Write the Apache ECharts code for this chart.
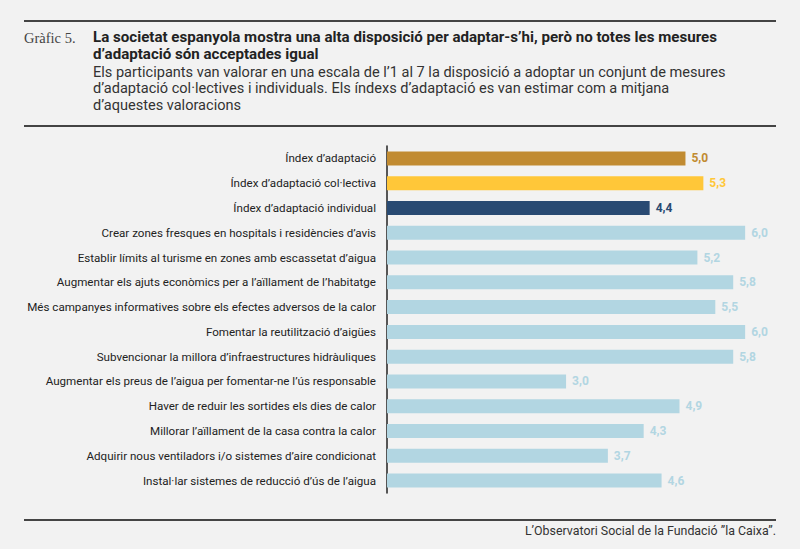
<!DOCTYPE html>
<html>
<head>
<meta charset="utf-8">
<script src="https://cdn.jsdelivr.net/npm/echarts@6/dist/echarts.min.js"></script>
<style>
html,body{margin:0;padding:0;background:#f2f2f2;}
#c{width:800px;height:549px;}
</style>
</head>
<body>
<div id="c"></div>
<script>
const categories = [
  "Índex d’adaptació",
  "Índex d’adaptació col·lectiva",
  "Índex d’adaptació individual",
  "Crear zones fresques en hospitals i residències d’avis",
  "Establir límits al turisme en zones amb escassetat d’aigua",
  "Augmentar els ajuts econòmics per a l’aïllament de l’habitatge",
  "Més campanyes informatives sobre els efectes adversos de la calor",
  "Fomentar la reutilització d’aigües",
  "Subvencionar la millora d’infraestructures hidràuliques",
  "Augmentar els preus de l’aigua per fomentar-ne l’ús responsable",
  "Haver de reduir les sortides els dies de calor",
  "Millorar l’aïllament de la casa contra la calor",
  "Adquirir nous ventiladors i/o sistemes d’aire condicionat",
  "Instal·lar sistemes de reducció d’ús de l’aigua"
];
const values = [5.0, 5.3, 4.4, 6.0, 5.2, 5.8, 5.5, 6.0, 5.8, 3.0, 4.9, 4.3, 3.7, 4.6];
const barColors = ["#c18b31", "#ffc739", "#294a72", "#b2d6e2", "#b2d6e2", "#b2d6e2", "#b2d6e2", "#b2d6e2", "#b2d6e2", "#b2d6e2", "#b2d6e2", "#b2d6e2", "#b2d6e2", "#b2d6e2"];
const chartLabel = "Gràfic 5.";
const titleLines = [
  "La societat espanyola mostra una alta disposició per adaptar-s’hi, però no totes les mesures",
  "d’adaptació són acceptades igual"
];
const subtitleLines = [
  "Els participants van valorar en una escala de l’1 al 7 la disposició a adoptar un conjunt de mesures",
  "d’adaptació col·lectives i individuals. Els índexs d’adaptació es van estimar com a mitjana",
  "d’aquestes valoracions"
];
const sourceText = "L’Observatori Social de la Fundació ”la Caixa”.";

const chart = echarts.init(document.getElementById('c'), null, {renderer: 'svg'});
const sans = "Roboto, 'Liberation Sans', sans-serif";

const graphics = [
  {type:'line', shape:{x1:24,y1:21,x2:776,y2:21}, style:{stroke:'#444',lineWidth:2}},
  {type:'line', shape:{x1:24,y1:126,x2:776,y2:126}, style:{stroke:'#444',lineWidth:2}},
  {type:'line', shape:{x1:24,y1:520,x2:776,y2:520}, style:{stroke:'#444',lineWidth:2}},
  {type:'text', left:24, top:30, style:{text:chartLabel, font:"14.5px 'Liberation Serif', serif", fill:'#444'}},
  {type:'text', right:24, top:524, style:{text:sourceText, font:"12.4px "+sans, fill:'#333'}}
];
titleLines.forEach((t,i)=>graphics.push({type:'text', left:93, top:29.5+i*17, style:{text:t, font:"bold 15.1px "+sans, fill:'#222'}}));
subtitleLines.forEach((t,i)=>graphics.push({type:'text', left:93, top:64.5+i*16.5, style:{text:t, font:"14.55px "+sans, fill:'#333'}}));

chart.setOption({
  backgroundColor:'#f2f2f2',
  animation:false,
  graphic: graphics,
  grid:{left:387, right:25, top:146, height:347, containLabel:false},
  xAxis:{type:'value', min:0, max:6.5, show:false},
  yAxis:{
    type:'category', data:categories, inverse:true,
    axisLine:{show:true, lineStyle:{color:'#222', width:1.5}},
    axisTick:{show:false},
    axisLabel:{color:'#222', fontSize:11.6, fontFamily:sans, margin:11}
  },
  series:[{
    type:'bar',
    data: values.map((v,i)=>({value:v, itemStyle:{color:barColors[i]}, label:{color:barColors[i]}})),
    barWidth:14,
    label:{show:true, position:'right', distance:6, fontWeight:'bold', fontSize:12, fontFamily:sans,
      formatter:p=>p.value.toFixed(1).replace('.', ',')}
  }]
});
</script>
</body>
</html>
